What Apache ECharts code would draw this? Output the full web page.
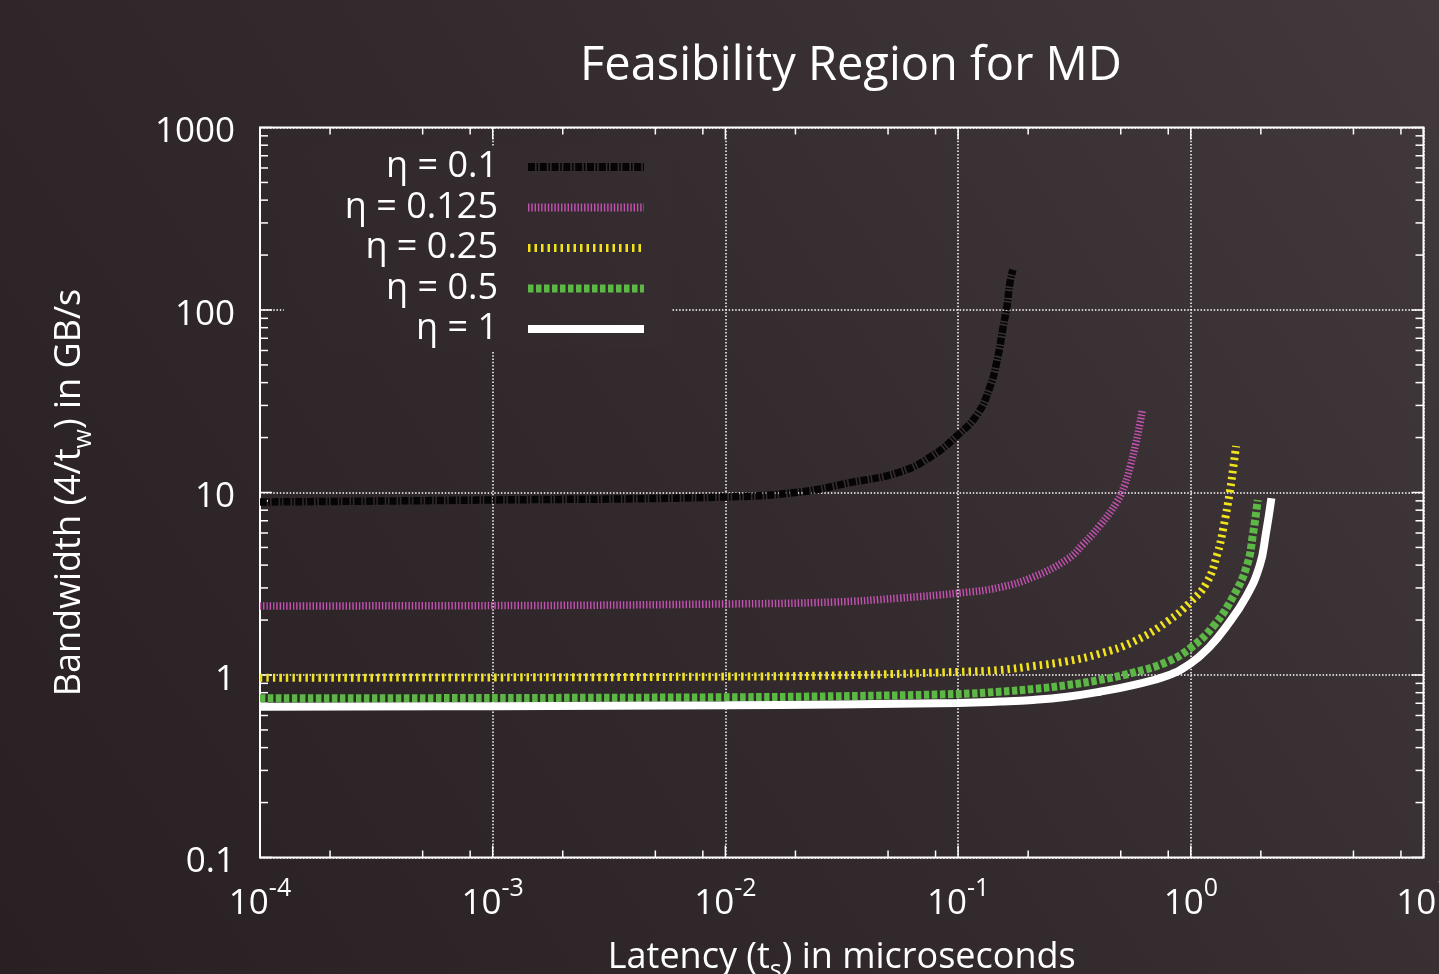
<!DOCTYPE html>
<html>
<head>
<meta charset="utf-8">
<script src="https://cdn.jsdelivr.net/npm/echarts@6/dist/echarts.min.js"></script>
<style>
html,body{margin:0;padding:0;background:#2f272a;overflow:hidden;}
#chart{width:1439px;height:974px;}
</style>
</head>
<body>
<div id="chart"></div>
<script>
// ---- data ----
const seriesNames = ['η = 0.1', 'η = 0.125', 'η = 0.25', 'η = 0.5', 'η = 1'];

const latencyEta0100 = [1e-4, 1e-3, 0.01, 0.021, 0.034, 0.0563, 0.078, 0.0995, 0.1205, 0.137, 0.148, 0.156, 0.162, 0.167, 0.172];
const bandwidthEta0100 = [8.87, 9.1, 9.45, 10.07, 11.3, 12.95, 16.0, 20.6, 26.6, 37.8, 55, 80, 104, 141, 166];

const latencyEta0125 = [1e-4, 1e-3, 0.01, 0.029, 0.056, 0.1, 0.151, 0.21, 0.294, 0.344, 0.407, 0.482, 0.52, 0.55, 0.58, 0.605, 0.62];
const bandwidthEta0125 = [2.39, 2.40, 2.45, 2.51, 2.64, 2.81, 3.02, 3.44, 4.3, 5.2, 6.6, 8.9, 11, 14, 18.5, 24, 28.5];

const latencyEta0250 = [1e-4, 1e-3, 0.01, 0.03, 0.1, 0.151, 0.21, 0.294, 0.407, 0.565, 0.791, 1.0, 1.17, 1.30, 1.38, 1.47, 1.52, 1.565];
const bandwidthEta0250 = [0.966, 0.97, 0.98, 0.995, 1.04, 1.065, 1.12, 1.19, 1.31, 1.52, 1.96, 2.52, 3.2, 4.6, 6.4, 10, 13.5, 18];

const latencyEta0500 = [1e-4, 1e-3, 0.01, 0.03, 0.1, 0.151, 0.21, 0.294, 0.407, 0.565, 0.791, 1.0, 1.245, 1.52, 1.745, 1.85, 1.94];
const bandwidthEta0500 = [0.745, 0.748, 0.755, 0.765, 0.787, 0.81, 0.838, 0.88, 0.94, 1.03, 1.18, 1.41, 1.84, 2.69, 4.0, 5.9, 9.1];

const latencyEta1000 = [1e-4, 1e-3, 0.01, 0.03, 0.1, 0.151, 0.21, 0.294, 0.407, 0.565, 0.791, 1.0, 1.2, 1.42, 1.73, 1.98, 2.1, 2.22];
const bandwidthEta1000 = [0.67, 0.675, 0.682, 0.69, 0.703, 0.715, 0.73, 0.76, 0.81, 0.88, 0.99, 1.16, 1.42, 1.84, 2.69, 4.0, 5.9, 9.3];

const xMin = 1e-4, xMax = 10;
const yMin = 0.1, yMax = 1000;

// tick positions
const xDecades = [1e-4, 1e-3, 1e-2, 1e-1, 1];
const xTickMultipliers = [1, 2, 5, 8];
const yDecades = [0.1, 1, 10, 100];
const yTickMultipliers = [1, 2, 3, 4, 5, 6, 7, 8, 9];
const xTickValues = [];
xDecades.forEach(d => xTickMultipliers.forEach(m => xTickValues.push(+(d * m).toPrecision(3))));
xTickValues.push(xMax);
const yTickValues = [];
yDecades.forEach(d => yTickMultipliers.forEach(m => yTickValues.push(+(d * m).toPrecision(3))));
yTickValues.push(yMax);

// ---- chart ----
const FONT = '"Open Sans", "Noto Sans", sans-serif';
const chart = echarts.init(document.getElementById('chart'), null, {renderer: 'canvas'});

function zip(xs, ys) { return xs.map((x, i) => [x, ys[i]]); }

const styles = [
  {color: '#050505', width: 7.5, type: [7, 1.6, 1.6, 1.6]},
  {color: '#c452b2', width: 7.5, type: [1.4, 1.9]},
  {color: '#f1e41c', width: 8, type: [2.5, 4]},
  {color: '#5cb747', width: 8, type: [5.5, 2.5]},
  {color: '#ffffff', width: 8, type: 'solid'}
];
const dataSets = [
  zip(latencyEta0100, bandwidthEta0100),
  zip(latencyEta0125, bandwidthEta0125),
  zip(latencyEta0250, bandwidthEta0250),
  zip(latencyEta0500, bandwidthEta0500),
  zip(latencyEta1000, bandwidthEta1000)
];

const lineSeries = seriesNames.map((name, i) => ({
  name: name,
  type: 'line',
  data: dataSets[i],
  showSymbol: false,
  symbol: 'none',
  smooth: 0.45,
  clip: true,
  z: 5,
  itemStyle: {color: styles[i].color},
  lineStyle: {color: styles[i].color, width: styles[i].width, type: styles[i].type, cap: 'butt'}
}));

const isMajor = v => Math.abs(Math.log10(v) - Math.round(Math.log10(v))) < 1e-6;

const xTickSeries = {
  type: 'custom',
  silent: true,
  z: 3,
  data: xTickValues.map(v => [v, 1]),
  encode: {x: 0, y: 1},
  renderItem: function (params, api) {
    const v = api.value(0);
    const b = api.coord([v, yMin]);
    const t = api.coord([v, yMax]);
    const len = isMajor(v) ? 12 : 7;
    const st = {stroke: '#ffffff', lineWidth: 1.5};
    return {type: 'group', children: [
      {type: 'line', shape: {x1: b[0], y1: b[1], x2: b[0], y2: b[1] - len}, style: st},
      {type: 'line', shape: {x1: t[0], y1: t[1], x2: t[0], y2: t[1] + len}, style: st}
    ]};
  }
};
const yTickSeries = {
  type: 'custom',
  silent: true,
  z: 3,
  data: yTickValues.map(v => [1, v]),
  encode: {x: 0, y: 1},
  renderItem: function (params, api) {
    const v = api.value(1);
    const l = api.coord([xMin, v]);
    const r = api.coord([xMax, v]);
    const len = isMajor(v) ? 12 : 8;
    const st = {stroke: '#ffffff', lineWidth: 1.5};
    return {type: 'group', children: [
      {type: 'line', shape: {x1: l[0], y1: l[1], x2: l[0] + len, y2: l[1]}, style: st},
      {type: 'line', shape: {x1: r[0], y1: r[1], x2: r[0] - len, y2: r[1]}, style: st}
    ]};
  }
};

const option = {
  animation: false,
  backgroundColor: {
    type: 'linear', x: 1, y: 0, x2: 0, y2: 1,
    colorStops: [
      {offset: 0, color: '#42393c'},
      {offset: 0.5, color: '#332a2d'},
      {offset: 1, color: '#282022'}
    ]
  },
  title: {
    text: 'Feasibility Region for MD',
    left: 846, top: 38, textAlign: 'center',
    textStyle: {color: '#ffffff', fontFamily: FONT, fontSize: 47, fontWeight: 'normal'}
  },
  grid: {
    left: 260, top: 127.5, right: 15.5, bottom: 116.5,
    show: true, borderColor: '#ffffff', borderWidth: 2, backgroundColor: 'transparent',
    containLabel: false,
    outerBoundsMode: 'none'
  },
  legend: {
    data: seriesNames,
    orient: 'vertical',
    align: 'right',
    right: 767,
    top: 146,
    padding: [3, 24, 3, 61],
    itemGap: 4.5,
    itemWidth: 116,
    itemHeight: 14,
    backgroundColor: {
      type: 'linear', x: 1, y: 0, x2: 0, y2: 1,
      colorStops: [
        {offset: 0, color: '#362d30'},
        {offset: 1, color: '#2f2729'}
      ]
    },
    selectedMode: false,
    textStyle: {color: '#ffffff', fontFamily: FONT, fontSize: 36, lineHeight: 36, padding: [0, 25, 0, 0]},
    itemStyle: {color: 'transparent', borderColor: 'transparent', borderWidth: 0, opacity: 0},
    lineStyle: {width: 8, type: 'inherit'}
  },
  xAxis: {
    type: 'log',
    logBase: 10,
    min: xMin, max: xMax,
    name: 'Latency (t{sub|s}) in microseconds',
    nameLocation: 'middle',
    nameGap: 74,
    nameTextStyle: {
      color: '#ffffff', fontFamily: FONT, fontSize: 36, lineHeight: 50,
      rich: {sub: {fontSize: 25, fontFamily: FONT, color: '#ffffff', verticalAlign: 'bottom', lineHeight: 52}}
    },
    axisLine: {show: false},
    axisTick: {show: false},
    axisLabel: {
      margin: 19,
      color: '#ffffff',
      formatter: function (v) {
        const e = Math.round(Math.log10(v));
        return '{b|10}{s|' + e + '}';
      },
      rich: {
        b: {fontFamily: FONT, fontSize: 35, color: '#ffffff', lineHeight: 56, verticalAlign: 'middle'},
        s: {fontFamily: FONT, fontSize: 25, color: '#ffffff', lineHeight: 56, verticalAlign: 'top'}
      }
    },
    splitLine: {show: true, lineStyle: {color: '#ffffff', width: 1.5, type: [1.5, 1.8]}},
    minorTick: {show: false},
    minorSplitLine: {show: false}
  },
  yAxis: {
    type: 'log',
    logBase: 10,
    min: yMin, max: yMax,
    name: 'Bandwidth (4/t{sub|w}) in GB/s',
    nameLocation: 'middle',
    nameGap: 164,
    nameRotate: 90,
    nameTextStyle: {
      color: '#ffffff', fontFamily: FONT, fontSize: 36, lineHeight: 50,
      rich: {sub: {fontSize: 25, fontFamily: FONT, color: '#ffffff', verticalAlign: 'bottom', lineHeight: 52}}
    },
    axisLine: {show: false},
    axisTick: {show: false},
    axisLabel: {
      margin: 25,
      color: '#ffffff',
      formatter: function (v) { return '{v|' + String(+v.toPrecision(3)) + '}'; },
      rich: {
        v: {fontFamily: FONT, fontSize: 35, color: '#ffffff', lineHeight: 40, padding: [10, 0, 0, 0]}
      }
    },
    splitLine: {show: true, lineStyle: {color: '#ffffff', width: 1.5, type: [1.5, 1.8]}}
  },
  series: [xTickSeries, yTickSeries].concat(lineSeries)
};
chart.setOption(option);
</script>
</body>
</html>
